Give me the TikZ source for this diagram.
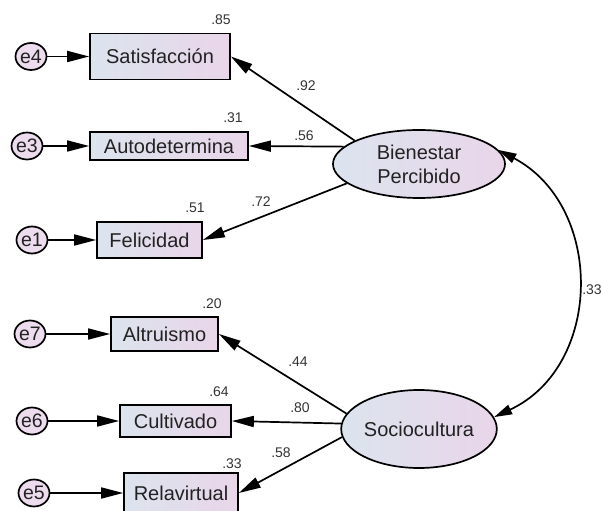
\documentclass[tikz,border=0pt]{standalone}
\usepackage{fontspec}
\setmainfont{Liberation Sans}
\usepackage{tikz}
\usepackage{xcolor}
\usetikzlibrary{shapes.geometric, arrows.meta, calc}
\definecolor{AMOS_Blue}{HTML}{DCE4EE}
\definecolor{AMOS_Pink}{HTML}{E9D5E9}
\definecolor{AMOS_Lilac}{HTML}{ECDCEE}
\definecolor{AMOS_Ink}{HTML}{222222}
\definecolor{AMOS_Est}{HTML}{333333}

\tikzset{
    obsbox/.style={draw, line width=1.7pt, rectangle, inner sep=0pt,
        left color=AMOS_Blue, right color=AMOS_Pink, text=AMOS_Ink,
        font=\fontsize{20}{22}\selectfont},
    latent/.style={draw, line width=1.7pt, ellipse, inner sep=0pt,
        left color=AMOS_Blue, right color=AMOS_Pink, text=AMOS_Ink,
        align=center, font=\fontsize{20}{24}\selectfont},
    errc/.style={draw, line width=1.7pt, ellipse, inner sep=0pt,
        fill=AMOS_Lilac, text=AMOS_Ink, minimum width=31pt, minimum height=27pt,
        font=\fontsize{19.5}{22}\selectfont},
    est/.style={text=AMOS_Est, inner sep=0pt, font=\fontsize{14}{16}\selectfont},
    pth/.style={line width=1.7pt, -{Triangle[length=22pt,width=11pt]}},
    covar/.style={line width=1.7pt, {Triangle[length=18pt,width=10pt]}-{Triangle[length=18pt,width=10pt]}}
}

\begin{document}
\begin{tikzpicture}[x=1pt, y=1pt]

    \useasboundingbox (0,0) rectangle (602,511);

    % === Latent factors ===
    \node[latent, minimum width=172pt, minimum height=68pt] (bien) at (419,347) {Bienestar\\Percibido};
    \node[latent, minimum width=144pt, minimum height=78pt] (soc) at (419,82) {Sociocultura};

    % === Indicators of Bienestar Percibido ===
    \node[obsbox, minimum width=140pt, minimum height=46pt] (sat) at (160,454.5) {Satisfacción};
    \node[obsbox, minimum width=158pt, minimum height=28pt] (auto) at (169,365) {Autodetermina};
    \node[obsbox, minimum width=105pt, minimum height=36pt] (fel) at (149.5,271) {Felicidad};

    % === Indicators of Sociocultura ===
    \node[obsbox, minimum width=107pt, minimum height=34pt] (alt) at (164.5,177) {Altruismo};
    \node[obsbox, minimum width=111pt, minimum height=32pt] (cul) at (175.5,90) {Cultivado};
    \node[obsbox, minimum width=114pt, minimum height=40pt] (rel) at (181,18) {Relavirtual};

    % === Error terms ===
    \node[errc] (e4) at (31,454.5) {e4};
    \node[errc] (e3) at (27,365) {e3};
    \node[errc] (e1) at (32,271) {e1};
    \node[errc] (e7) at (30,177) {e7};
    \node[errc] (e6) at (32,90) {e6};
    \node[errc] (e5) at (34,18) {e5};

    \foreach \e/\o in {e4/sat, e3/auto, e1/fel, e7/alt, e6/cul, e5/rel}
        \draw[pth] (\e) -- (\o);

    % === Loadings ===
    \draw[pth] (bien.160) -- (sat.east);
    \draw[pth] (bien.167) -- (auto.east);
    \draw[pth] (bien.195) -- (fel.east);
    \draw[pth] (soc.168) -- (alt.east);
    \draw[pth] (soc.176) -- (cul.east);
    \draw[pth] (soc.186) -- (rel.east);

    % === Covariance ===
    \draw[covar] (bien.10) to[out=-28, in=25, looseness=1.15] (soc.9);

    % === Estimates ===
    \node[est] (r2sat) at (221,491) {.85};
    \node[est] (r2auto) at (233,393) {.31};
    \node[est] (r2fel) at (195,303) {.51};
    \node[est] (r2alt) at (212,207) {.20};
    \node[est] (r2cul) at (219,119) {.64};
    \node[est] (r2rel) at (232,47) {.33};
    \node[est] (lsat) at (306,425) {.92};
    \node[est] (lauto) at (304,375) {.56};
    \node[est] (lfel) at (261,309) {.72};
    \node[est] (lalt) at (298,149) {.44};
    \node[est] (lcul) at (300,103) {.80};
    \node[est] (lrel) at (281,58) {.58};
    \node[est] (lcov) at (592,221) {.33};

\end{tikzpicture}
\end{document}
